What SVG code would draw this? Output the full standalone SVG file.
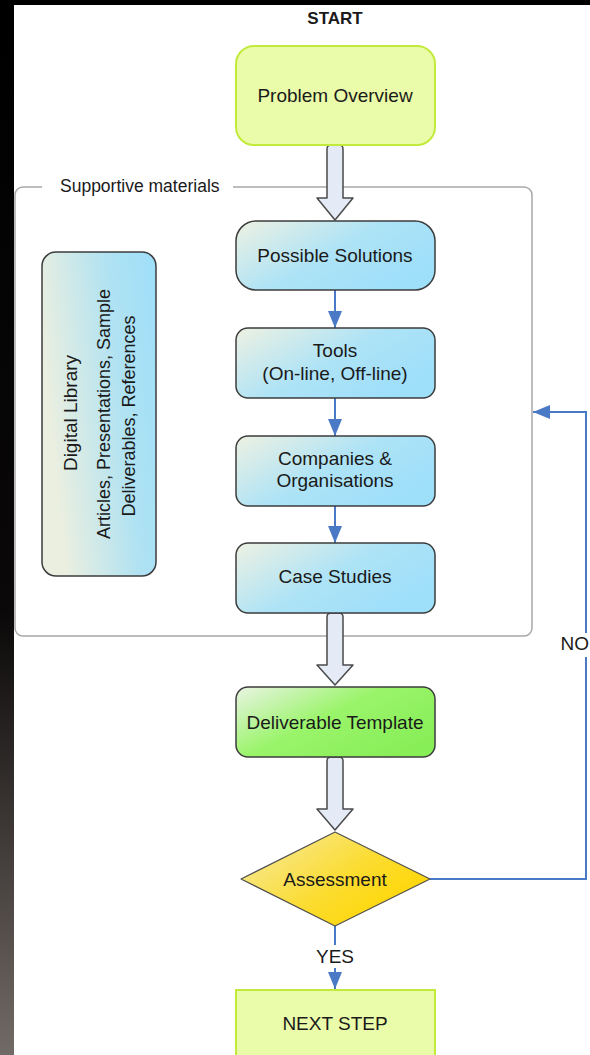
<svg xmlns="http://www.w3.org/2000/svg" width="590" height="1055" viewBox="0 0 590 1055">
<style>
.t{font-family:"Liberation Sans",Arial,sans-serif;font-size:19px;fill:#1a1a1a;text-anchor:middle}
.s{font-size:17.5px}
.b{font-weight:bold;font-size:17px}
.blue{fill:url(#gBlue);stroke:#3c3c3c;stroke-width:1.5}
.hollow{fill:#e4ebf7;stroke:#4a4a4a;stroke-width:1.5;stroke-linejoin:round}
.conn{fill:none;stroke:#4a7ac6;stroke-width:2}
</style>
<defs>
<linearGradient id="gStrip" x1="0" y1="0" x2="0" y2="1">
<stop offset="0" stop-color="#000"/><stop offset="0.58" stop-color="#0a0808"/><stop offset="1" stop-color="#726a66"/>
</linearGradient>
<linearGradient id="gBlue" x1="0" y1="0" x2="1" y2="0.6">
<stop offset="0" stop-color="#eef1e2"/><stop offset="0.55" stop-color="#aee3f6"/><stop offset="1" stop-color="#9edffa"/>
</linearGradient>
<linearGradient id="gLib" x1="0" y1="0.3" x2="1" y2="0">
<stop offset="0" stop-color="#ebefe0"/><stop offset="0.6" stop-color="#b0e2f2"/><stop offset="1" stop-color="#9edffa"/>
</linearGradient>
<linearGradient id="gGreen" x1="0" y1="0" x2="1" y2="0.7">
<stop offset="0" stop-color="#eaf4e4"/><stop offset="0.5" stop-color="#9af46a"/><stop offset="1" stop-color="#88ee58"/>
</linearGradient>
<linearGradient id="gYellow" x1="0" y1="0" x2="1" y2="0.7">
<stop offset="0" stop-color="#f6eaa6"/><stop offset="0.6" stop-color="#fbdc30"/><stop offset="1" stop-color="#ffd600"/>
</linearGradient>
<marker id="ah" viewBox="0 0 17 14" refX="17" refY="7" markerWidth="17" markerHeight="14" markerUnits="userSpaceOnUse" orient="auto">
<path d="M0,0 L17,7 L0,14 Z" fill="#4a7ac6"/>
</marker>
</defs>
<rect x="0" y="0" width="590" height="1055" fill="#fff"/>
<rect x="0" y="0" width="590" height="5" fill="#000"/>
<rect x="0" y="0" width="14" height="1055" fill="url(#gStrip)"/>

<g id="container">
<rect x="15" y="187" width="517" height="449" rx="8" fill="none" stroke="#a8a8a8" stroke-width="1.5"/>
<rect x="42" y="180" width="191" height="14" fill="#fff"/>
<text x="60" y="192" class="t s" style="text-anchor:start">Supportive materials</text>
</g>

<g id="start"><text x="335" y="24" class="t b">START</text></g>

<g id="connectors">
<path class="hollow" d="M327,149 Q327,145 331,145 L339,145 Q343,145 343,149 L343,198 L353,198 L335,220 L317,198 L327,198 Z"/>
<path class="hollow" d="M327,617 Q327,613 331,613 L339,613 Q343,613 343,617 L343,665 L353,665 L335,685 L317,665 L327,665 Z"/>
<path class="hollow" d="M327,761 Q327,757 331,757 L339,757 Q343,757 343,761 L343,809 L353,809 L335,830 L317,809 L327,809 Z"/>
<path class="conn" d="M335,290 V328" marker-end="url(#ah)"/>
<path class="conn" d="M335,398 V436" marker-end="url(#ah)"/>
<path class="conn" d="M335,506 V543" marker-end="url(#ah)"/>
<path class="conn" d="M335,926 V989" marker-end="url(#ah)"/>
<path class="conn" d="M430,879 H586 V412 H533" marker-end="url(#ah)"/>
<rect x="318" y="945" width="34" height="23" fill="#fff"/>
<text x="335" y="963" class="t">YES</text>
<rect x="560" y="633" width="30" height="24" fill="#fff"/>
<text x="589" y="650" class="t" style="text-anchor:end">NO</text>
</g>

<g id="problem-overview">
<rect x="236" y="46" width="199" height="99" rx="18" fill="#eafca9" stroke="#c2ea3a" stroke-width="2"/>
<text x="335" y="102" class="t">Problem Overview</text>
</g>

<g id="digital-library">
<rect x="42" y="252" width="114" height="324" rx="14" fill="url(#gLib)" stroke="#3c3c3c" stroke-width="1.5"/>
<text class="t" transform="translate(77,413) rotate(-90)">Digital Library</text>
<text class="t" style="font-size:18px" transform="translate(110,414) rotate(-90)">Articles, Presentations, Sample</text>
<text class="t" style="font-size:18px" transform="translate(135,416) rotate(-90)">Deliverables, References</text>
</g>

<g id="possible-solutions">
<rect x="236" y="221" width="199" height="69" rx="20" class="blue"/>
<text x="335" y="262" class="t">Possible Solutions</text>
</g>

<g id="tools">
<rect x="236" y="328" width="199" height="70" rx="12" class="blue"/>
<text x="335" y="357" class="t">Tools</text>
<text x="335" y="380" class="t">(On-line, Off-line)</text>
</g>

<g id="companies">
<rect x="236" y="436" width="199" height="70" rx="12" class="blue"/>
<text x="335" y="465" class="t">Companies &amp;</text>
<text x="335" y="487" class="t">Organisations</text>
</g>

<g id="case-studies">
<rect x="236" y="543" width="199" height="70" rx="12" class="blue"/>
<text x="335" y="583" class="t">Case Studies</text>
</g>

<g id="deliverable-template">
<rect x="236" y="687" width="199" height="70" rx="12" fill="url(#gGreen)" stroke="#3c3c3c" stroke-width="1.5"/>
<text x="335" y="729" class="t">Deliverable Template</text>
</g>

<g id="assessment">
<path d="M335,832 L430,879 L335,926 L241,879 Z" fill="url(#gYellow)" stroke="#505050" stroke-width="1.2" stroke-linejoin="round"/>
<text x="335" y="886" class="t">Assessment</text>
</g>

<g id="next-step">
<rect x="236" y="990" width="199" height="80" fill="#eafca9" stroke="#c2ea3a" stroke-width="2"/>
<text x="335" y="1030" class="t">NEXT STEP</text>
</g>
</svg>
